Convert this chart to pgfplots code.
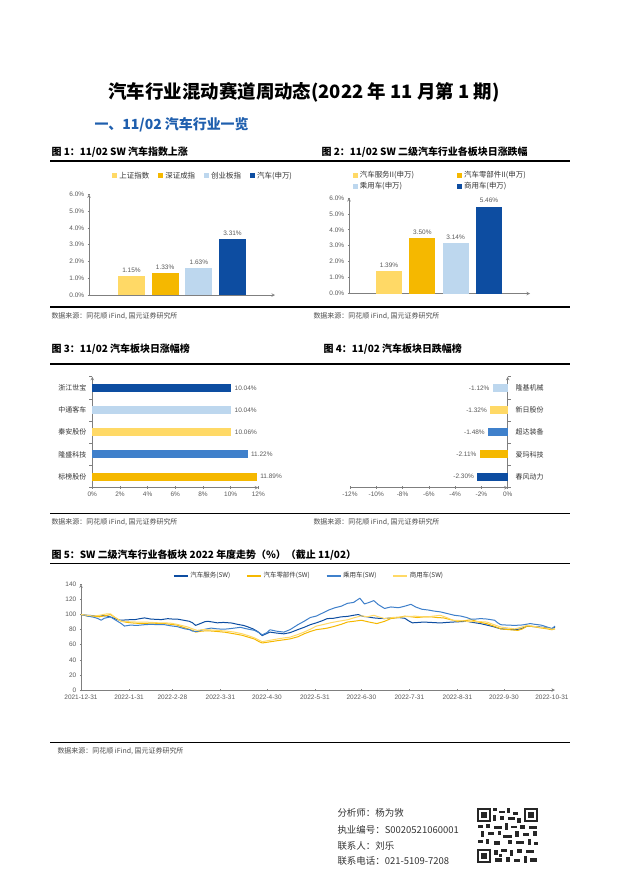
\documentclass[border=0pt]{standalone}
\usepackage{fontspec}
\setmainfont{Liberation Sans}
\newfontfamily\cjk{Noto Sans CJK SC}
\usepackage{pgfplots}
\pgfplotsset{compat=1.18}

\definecolor{cLY}{HTML}{FFD966}
\definecolor{cAm}{HTML}{F5B800}
\definecolor{cLB}{HTML}{BDD7EE}
\definecolor{cDB}{HTML}{0D4DA1}
\definecolor{cMB}{HTML}{3F80CB}
\definecolor{hblue}{HTML}{1F5FAE}
\definecolor{axisgray}{HTML}{7F7F7F}
\definecolor{lblgray}{HTML}{595959}

\pgfplotsset{
  /pgf/number format/assume math mode=true,
  rpt/.style={scale only axis, clip=false,
    axis line style={-, draw=axisgray, line width=0.6bp},
    tick style={draw=axisgray, line width=0.6bp},
    tick align=outside, major tick length=2.5bp,
    tick label style={font=\fontsize{6.5}{7}\selectfont, text=lblgray}},
  barleg/.style={legend image code/.code={\fill[##1] (0bp,-2.5bp) rectangle (5bp,2.5bp);}},
  lineleg/.style={legend image code/.code={\draw[##1, line width=1.3bp] (0bp,0bp) -- (14bp,0bp);}},
  pct2/.style={nodes near coords={\pgfmathprintnumber[fixed,precision=2,fixed zerofill]{\pgfplotspointmeta}\%},
    nodes near coords style={font=\fontsize{6.5}{7}\selectfont, text=lblgray}},
}

\begin{document}
\begin{tikzpicture}
\path[fill=white, use as bounding box] (0bp,0bp) rectangle (620bp,-877bp);

\begin{scope}[x=1bp, y=-1bp]
% headings
\node[font=\cjk\bfseries\fontsize{18.5}{20}\selectfont] at (304,92) {汽车行业混动赛道周动态(2022 年 11 月第 1 期)};
\node[anchor=west, font=\cjk\bfseries\fontsize{14}{16}\selectfont, text=hblue] at (91,125) {一、11/02 汽车行业一览};

\node[anchor=west, font=\cjk\bfseries\fontsize{10}{12}\selectfont] at (48,152) {图 1：11/02 SW 汽车指数上涨};
\node[anchor=west, font=\cjk\bfseries\fontsize{10}{12}\selectfont] at (318,152) {图 2：11/02 SW 二级汽车行业各板块日涨跌幅};
\draw[line width=1.2bp] (50,161) -- (570,161);
\draw[line width=1.2bp] (50,307) -- (570,307);
\node[anchor=west, font=\cjk\fontsize{7}{8}\selectfont, text=black!70] at (48,316) {数据来源：同花顺 iFind, 国元证券研究所};
\node[anchor=west, font=\cjk\fontsize{7}{8}\selectfont, text=black!70] at (310,316) {数据来源：同花顺 iFind, 国元证券研究所};

\node[anchor=west, font=\cjk\bfseries\fontsize{10}{12}\selectfont] at (48,349.5) {图 3：11/02 汽车板块日涨幅榜};
\node[anchor=west, font=\cjk\bfseries\fontsize{10}{12}\selectfont] at (320,349.5) {图 4：11/02 汽车板块日跌幅榜};
\draw[line width=1.2bp] (50,364) -- (570,364);
\draw[line width=1.2bp] (50,513.5) -- (570,513.5);
\node[anchor=west, font=\cjk\fontsize{7}{8}\selectfont, text=black!70] at (48,522.5) {数据来源：同花顺 iFind, 国元证券研究所};
\node[anchor=west, font=\cjk\fontsize{7}{8}\selectfont, text=black!70] at (310,522.5) {数据来源：同花顺 iFind, 国元证券研究所};

\node[anchor=west, font=\cjk\bfseries\fontsize{10}{12}\selectfont] at (48,555) {图 5：SW 二级汽车行业各板块 2022 年度走势（\%）（截止 11/02）};
\draw[line width=1.2bp] (50,563.3) -- (570,563.3);
\draw[line width=1.2bp] (50,742.5) -- (570,742.5);
\node[anchor=west, font=\cjk\fontsize{7}{8}\selectfont, text=black!70] at (54,751.5) {数据来源：同花顺 iFind, 国元证券研究所};

% contact block
\begin{scope}[font=\cjk\fontsize{9.5}{11}\selectfont, text=black!80]
\node[anchor=west] at (334,813) {分析师：杨为敩};
\node[anchor=west] at (334,829.5) {执业编号：S0020521060001};
\node[anchor=west] at (334,845.5) {联系人：刘乐};
\node[anchor=west] at (334,861) {联系电话：021-5109-7208};
\end{scope}

% QR code (decorative)
\begin{scope}[black!85]
\foreach \qx/\qy in {477/808, 524/808, 477/849}{
  \fill (\qx,\qy) rectangle ++(14,14);
  \fill[white] (\qx+2,\qy+2) rectangle ++(10,10);
  \fill (\qx+4,\qy+4) rectangle ++(6,6);
}
\foreach \qx/\qy/\qw/\qh in {493/808/4/3, 499/811/6/2, 507/808/3/5, 513/812/5/3, 493/815/3/6,
  500/816/4/4, 508/817/7/3, 517/818/4/5, 478/825/5/3, 486/824/4/4, 494/826/8/3, 505/823/3/7,
  511/826/6/2, 520/825/5/4, 529/826/8/3, 481/831/3/6, 488/832/6/3, 498/831/3/4, 503/835/9/3,
  515/831/4/6, 523/833/6/3, 533/831/4/5, 478/840/5/3, 486/839/3/5, 494/841/6/4, 508/840/4/4,
  516/841/8/3, 528/839/3/6, 534/842/4/3, 494/850/4/5, 501/849/6/3, 510/850/3/6, 517/849/5/4,
  526/850/8/3, 495/858/7/4, 506/857/4/5, 514/859/6/3, 524/856/3/7, 530/858/7/4, 499/854/3/3}{
  \fill (\qx,\qy) rectangle ++(\qw,\qh);
}
\end{scope}
\end{scope}

% Figure 1
\begin{axis}[rpt, at={(89bp,-295bp)}, anchor=south west, width=186bp, height=100.7bp,
  xmin=-1.26, xmax=4.26, ymin=0, ymax=6,
  axis x line=bottom, axis y line=left, xtick=\empty,
  ytick={0,...,6}, yticklabel={\pgfmathprintnumber[fixed,precision=1,fixed zerofill]{\tick}\%},
  ybar, bar width=27bp, pct2, barleg,
  legend columns=4,
  legend style={at={(0.125,1.185)}, anchor=west, draw=none, fill=none, inner sep=0pt,
    font={\cjk\fontsize{7.5}{9}\selectfont}, text=black!80,
    /tikz/every even column/.append style={column sep=7bp}},
]
\addplot[fill=cLY, draw=none, bar shift=0pt] coordinates {(0,1.15)};
\addplot[fill=cAm, draw=none, bar shift=0pt] coordinates {(1,1.33)};
\addplot[fill=cLB, draw=none, bar shift=0pt] coordinates {(2,1.63)};
\addplot[fill=cDB, draw=none, bar shift=0pt] coordinates {(3,3.31)};
\legend{上证指数,深证成指,创业板指,汽车(申万)}
\end{axis}

% Figure 2
\begin{axis}[rpt, at={(349bp,-293.5bp)}, anchor=south west, width=181bp, height=95.6bp,
  xmin=-1.2, xmax=4.23, ymin=0, ymax=6,
  axis x line=bottom, axis y line=left, xtick=\empty,
  ytick={0,...,6}, yticklabel={\pgfmathprintnumber[fixed,precision=1,fixed zerofill]{\tick}\%},
  ybar, bar width=26bp, pct2, barleg,
  legend columns=2, legend cell align=left,
  legend style={at={(0.02,1.30)}, anchor=north west, draw=none, fill=none, inner sep=0pt,
    font={\cjk\fontsize{7.5}{8.5}\selectfont}, text=black!80, row sep=-1bp,
    /tikz/every even column/.append style={column sep=41bp}},
]
\addplot[fill=cLY, draw=none, bar shift=0pt] coordinates {(0,1.39)};
\addplot[fill=cAm, draw=none, bar shift=0pt] coordinates {(1,3.50)};
\addplot[fill=cLB, draw=none, bar shift=0pt] coordinates {(2,3.14)};
\addplot[fill=cDB, draw=none, bar shift=0pt] coordinates {(3,5.46)};
\legend{汽车服务II(申万),汽车零部件II(申万),乘用车(申万),商用车(申万)}
\end{axis}

% Figure 3
\begin{axis}[rpt, at={(92.3bp,-487.7bp)}, anchor=south west, width=166bp, height=111bp,
  xmin=0, xmax=12, ymin=-0.5, ymax=4.5,
  axis x line=bottom, axis y line=left,
  xtick={0,2,...,12}, xticklabel={\pgfmathprintnumber{\tick}\%},
  ytick={0,...,4}, yticklabels={标榜股份,隆盛科技,秦安股份,中通客车,浙江世宝},
  yticklabel style={font=\cjk\fontsize{7}{8}\selectfont, text=black!80},
  major y tick style={draw=none},
  minor ytick={-0.5,0.5,...,4.5}, minor tick length=3bp, minor y tick style={draw=axisgray},
  xbar, bar width=8bp, pct2,
]
\addplot[fill=cAm, draw=none, bar shift=0pt] coordinates {(11.89,0)};
\addplot[fill=cMB, draw=none, bar shift=0pt] coordinates {(11.22,1)};
\addplot[fill=cLY, draw=none, bar shift=0pt] coordinates {(10.06,2)};
\addplot[fill=cLB, draw=none, bar shift=0pt] coordinates {(10.04,3)};
\addplot[fill=cDB, draw=none, bar shift=0pt] coordinates {(10.04,4)};
\end{axis}

% Figure 4
\begin{axis}[rpt, at={(350bp,-487.7bp)}, anchor=south west, width=157.7bp, height=111bp,
  xmin=-12, xmax=0, ymin=-0.5, ymax=4.5,
  axis x line=bottom, axis y line=right,
  xtick={-12,-10,...,0}, xticklabel={\pgfmathprintnumber{\tick}\%},
  ytick={0,...,4}, yticklabels={春风动力,爱玛科技,超达装备,新日股份,隆基机械},
  yticklabel style={font=\cjk\fontsize{7}{8}\selectfont, text=black!80, xshift=2bp},
  major y tick style={draw=none},
  minor ytick={-0.5,0.5,...,4.5}, minor tick length=3bp, minor y tick style={draw=axisgray},
  xbar, bar width=8bp, pct2,
]
\addplot[fill=cDB, draw=none, bar shift=0pt] coordinates {(-2.30,0)};
\addplot[fill=cAm, draw=none, bar shift=0pt] coordinates {(-2.11,1)};
\addplot[fill=cMB, draw=none, bar shift=0pt] coordinates {(-1.48,2)};
\addplot[fill=cLY, draw=none, bar shift=0pt] coordinates {(-1.32,3)};
\addplot[fill=cLB, draw=none, bar shift=0pt] coordinates {(-1.12,4)};
\end{axis}

% Figure 5
\begin{axis}[rpt, at={(81bp,-690bp)}, anchor=south west, width=474bp, height=105.7bp,
  xmin=0, xmax=306, ymin=0, ymax=140,
  axis x line=bottom, axis y line=left,
  ytick={0,20,...,140},
  xtick={0,31,59,90,120,151,181,212,243,273,304},
  xticklabels={2021-12-31,2022-1-31,2022-2-28,2022-3-31,2022-4-30,2022-5-31,2022-6-30,2022-7-31,2022-8-31,2022-9-30,2022-10-31},
  no markers, lineleg,
  every axis plot/.append style={line width=1bp, line join=round},
  legend columns=4,
  legend style={at={(0.194,1.079)}, anchor=west, draw=none, fill=none, inner sep=0pt,
    font={\cjk\fontsize{6.5}{7.5}\selectfont}, text=black!80,
    /tikz/every even column/.append style={column sep=14bp}},
]
\addplot[cDB] coordinates {
(0,100) (4,99) (8,98.5) (11,97.3) (14,98.5) (17,98) (20,96) (24,93) (26,92.4) (30,93)
(35,93.3) (38,94.5) (41,95.5) (45,94) (49,93.5) (52,93.3) (56,94.5) (59,94) (62,94) (66,92.5)
(70,91) (72,89) (74,85.6) (77,88) (80,90.5) (82,91) (85,90) (88,89) (92,89.5) (97,88.8)
(101,87) (105,85.5) (108,83.4) (111,81) (114,77.5) (117,72) (119,74) (122,76.7) (126,75.5) (131,74.4)
(135,76) (140,80) (144,83) (148,86.5) (152,89) (156,92) (159,94.6) (163,95) (168,96.9) (172,97.5)
(176,99) (179,100) (182,97.5) (185,96.9) (189,95.5) (192,95) (196,94.6) (200,95.5) (205,96) (209,95)
(212,91) (214,89) (218,89.5) (221,90) (226,89.5) (232,88.8) (236,89.5) (240,90) (245,90.5) (249,91)
(253,89.5) (258,87.9) (262,86) (266,84) (271,81) (275,80.5) (280,79.8) (284,81) (288,84.7) (292,84)
(296,83.5) (301,82.5) (304,81.5) (306,83.4)};
\addplot[cAm] coordinates {
(0,100) (4,98) (8,97.5) (12,97) (17,99) (19,100) (22,96) (26,91) (30,89.5) (35,88.5)
(41,88) (46,87.5) (50,88) (54,88) (58,87) (62,86) (66,83) (69,81) (72,79) (74,76.7)
(78,78) (82,78.5) (88,77.5) (93,76.5) (99,74.4) (104,72.5) (108,70) (112,67.5) (115,64) (117,62.3)
(121,63.5) (127,65.4) (131,66.5) (135,67.7) (140,70.5) (144,74.4) (148,77.5) (152,80) (156,81) (159,82)
(163,84) (168,87) (172,90) (176,91) (181,92.4) (186,90) (191,88) (196,91) (200,94.6) (205,96)
(209,97.8) (213,97) (217,96) (222,97) (226,96.9) (230,96) (234,95.5) (239,93) (243,91) (248,92)
(252,93) (257,90) (262,87.9) (266,85) (271,81) (276,80) (282,79) (285,81) (288,84.7) (292,84)
(296,82.5) (301,81) (304,79.8) (306,81)};
\addplot[cMB] coordinates {
(0,100) (4,98) (8,96.5) (11,94.6) (13,92.4) (15,95) (19,96.9) (22,93) (26,88) (28,84.7)
(32,86) (36,85.5) (41,86.5) (45,87) (50,86.5) (54,86.5) (58,85) (62,84) (67,81) (70,80)
(72,78) (75,77.5) (79,80) (84,82) (88,81) (92,80.5) (95,81) (99,82) (103,83) (107,81)
(112,79) (115,76) (117,73) (120,76) (122,79.8) (126,78) (131,76.7) (135,80) (140,86.5) (144,91)
(148,96) (152,98) (156,102) (160,106) (164,109) (168,111) (172,114.8) (176,116) (180,121.6) (183,114)
(186,116) (189,118.4) (192,113) (196,108) (200,110) (205,109) (209,111) (213,113.5) (216,110) (220,107)
(224,106) (228,104.5) (232,103.5) (237,101) (241,99) (245,98) (249,96) (252,93.7) (255,94) (258,94.6)
(262,94) (267,92.4) (269,89) (271,86.5) (275,86) (280,85.6) (284,86) (286,86.5) (290,88) (293,87)
(297,86) (301,83.4) (304,81) (306,84.7)};
\addplot[cLY] coordinates {
(0,100) (4,99) (8,98) (12,99) (17,101) (19,101) (22,96) (26,91) (30,90.5) (36,90)
(41,90) (46,89.5) (50,89) (54,89) (58,88.5) (62,87) (66,85) (69,83.4) (72,81) (75,79)
(79,80) (84,79.5) (88,79) (94,78) (99,76.7) (104,74.5) (108,72) (112,69) (115,66) (117,64)
(121,65.5) (127,67.7) (131,69) (135,70) (140,73.5) (144,76.7) (148,80.5) (152,84.7) (156,86.5) (161,89)
(166,91) (172,93) (176,95.5) (181,98.2) (185,97) (189,99) (192,97) (196,94.6) (201,96) (207,96.9)
(212,97.5) (216,97.8) (220,97) (224,96.9) (228,98) (232,99) (236,96) (240,92.4) (245,92) (249,91)
(254,90.5) (258,90.5) (262,90) (266,87) (271,83.4) (276,82) (280,81) (284,83) (288,85.6) (292,84.5)
(296,83) (301,82) (304,80.5) (306,81)};
\legend{汽车服务(SW),汽车零部件(SW),乘用车(SW),商用车(SW)}
\end{axis}
\end{tikzpicture}
\end{document}
